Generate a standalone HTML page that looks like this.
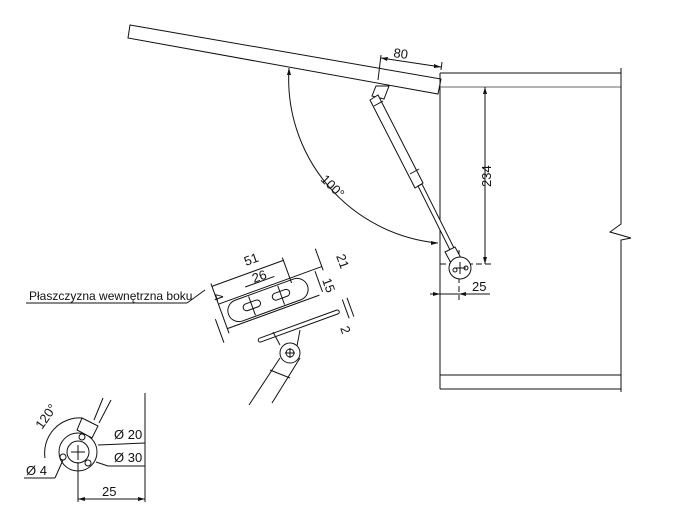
<!DOCTYPE html>
<html><head><meta charset="utf-8"><style>
html,body{margin:0;padding:0;background:#fff}
svg{display:block}
text{font-family:"Liberation Sans",sans-serif;font-size:13px;fill:#111}
</style></head><body>
<svg width="690" height="524" viewBox="0 0 690 524" xmlns="http://www.w3.org/2000/svg">
<g fill="none" stroke="#111" stroke-width="1">
<!-- lid -->
<polygon points="130,25 441,79 438,94 128,38" fill="#fff"/>
<!-- 80 dim -->
<line x1="381" y1="55" x2="378" y2="80"/>
<line x1="442" y1="62" x2="441" y2="70"/>
<line x1="381" y1="58" x2="441" y2="67"/>
<!-- cabinet -->
<line x1="440" y1="73" x2="440" y2="389"/>
<line x1="440" y1="73" x2="621" y2="73"/>
<line x1="440" y1="87" x2="621" y2="87" stroke="#666"/>
<line x1="440" y1="375" x2="621" y2="375"/>
<line x1="440" y1="389" x2="621" y2="389"/>
<polyline points="621,68 621,224 610,232 631,238 621,240 621,392"/>
<!-- 234 dim -->
<line x1="485" y1="87" x2="485" y2="264"/>
<line x1="440" y1="264" x2="492" y2="264" stroke-dasharray="6,3"/>
<!-- 25 dim -->
<line x1="430" y1="294" x2="490" y2="294"/>
<line x1="459" y1="250" x2="459" y2="300" stroke-dasharray="6,3"/>
<!-- angle arc -->
<path d="M289,68 A165,165 0 0 0 438,243"/>
<!-- gas spring -->
<path d="M372,96 L376,86 L389,86 L384,99 Z"/>
<polygon points="370,100 378,95 423,183 415,188" fill="#fff"/>
<line x1="374" y1="106" x2="383" y2="101"/>
<line x1="410" y1="174" x2="419" y2="169"/>
<polygon points="418,186 422,184 456,252 452,254" fill="#fff"/>
<polygon points="445,252 455,247 461,258 451,263" fill="#fff"/>
<circle cx="460" cy="268" r="11" fill="#fff"/>
<circle cx="455" cy="270" r="2"/><circle cx="466" cy="268" r="2"/>
<line x1="460" y1="262" x2="460" y2="274"/><line x1="454" y1="268" x2="466" y2="268"/>
<!-- label -->
<line x1="26" y1="303" x2="187" y2="303"/>
<line x1="187" y1="303" x2="205" y2="290"/>
<!-- bracket detail -->
<g transform="rotate(-20 268 300)">
<rect x="226" y="289" width="84" height="22" rx="11"/>
<rect x="242" y="296" width="18" height="7" rx="3.5"/>
<rect x="273" y="296" width="18" height="7" rx="3.5"/>
<line x1="251" y1="290" x2="251" y2="310"/><line x1="282" y1="290" x2="282" y2="310"/>
<line x1="220" y1="287" x2="330" y2="287"/>
<line x1="220" y1="313" x2="318" y2="313"/>
<line x1="220" y1="265" x2="220" y2="318"/>
<line x1="220" y1="268" x2="296" y2="268"/>
<line x1="296" y1="265" x2="296" y2="292"/>
<line x1="251" y1="280" x2="282" y2="280"/>
<line x1="330" y1="268" x2="330" y2="291"/>
<line x1="322" y1="289" x2="322" y2="311"/>
<line x1="212" y1="300" x2="212" y2="325"/>
<rect x="245" y="333" width="86" height="4" rx="2"/>
<line x1="338" y1="325" x2="338" y2="345"/><line x1="343" y1="325" x2="343" y2="345"/>
</g>
<circle cx="290" cy="353" r="10"/>
<circle cx="290" cy="353" r="4"/>
<line x1="285" y1="353" x2="295" y2="353"/><line x1="290" y1="348" x2="290" y2="358"/>
<line x1="280" y1="358" x2="249" y2="405"/>
<line x1="300" y1="358" x2="272" y2="403"/>
<line x1="270" y1="370" x2="290" y2="378"/>
<line x1="280" y1="345" x2="273" y2="332"/><line x1="297" y1="346" x2="300" y2="330"/>
<!-- bottom-left detail -->
<circle cx="78" cy="452" r="19"/>
<circle cx="78" cy="452" r="11"/>
<circle cx="82" cy="437" r="3"/><circle cx="63" cy="457" r="3"/><circle cx="88" cy="463" r="3"/>
<line x1="71" y1="452" x2="85" y2="452"/><line x1="78" y1="445" x2="78" y2="460"/>
<line x1="78" y1="462" x2="78" y2="502"/>
<line x1="145" y1="393" x2="145" y2="502"/>
<line x1="78" y1="499" x2="145" y2="499"/>
<line x1="98" y1="445" x2="145" y2="443"/>
<line x1="96" y1="462" x2="108" y2="466"/><line x1="108" y1="466" x2="145" y2="466"/>
<line x1="24" y1="478" x2="55" y2="478"/><line x1="55" y1="478" x2="63" y2="460"/>
<path d="M45,458 A35,35 0 0 1 82,418"/>
<polygon points="82,418 98,426 92,438 77,430" fill="#fff"/>
<line x1="94" y1="420" x2="103" y2="398"/><line x1="99" y1="423" x2="111" y2="400"/>
</g>
<g fill="#111">
<polygon points="381,58 388,57 387,61"/><polygon points="441,67 434,68 434,64"/>
<polygon points="485,87 483,94 487,94"/><polygon points="485,264 483,257 487,257"/>
<polygon points="440,294 433,292 433,296"/><polygon points="459,294 466,292 466,296"/>
<polygon points="289,68 287,75 291,75"/><polygon points="438,243 431,241 431,245"/>
<polygon points="78,499 85,497 85,501"/><polygon points="145,499 138,497 138,501"/>
</g>
<text x="393" y="57" transform="rotate(8 393 57)">80</text>
<text x="491" y="187" transform="rotate(-90 491 187)">234</text>
<text x="472" y="291">25</text>
<text x="320" y="180" transform="rotate(45 320 180)">100°</text>
<text x="246" y="266" transform="rotate(-20 246 266)">51</text>
<text x="254" y="283" transform="rotate(-20 254 283)">26</text>
<text x="336" y="256" transform="rotate(70 336 256)">21</text>
<text x="322" y="280" transform="rotate(70 322 280)">15</text>
<text x="213" y="295" transform="rotate(70 213 295)">4</text>
<text x="340" y="328" transform="rotate(70 340 328)">2</text>
<text x="29" y="300" style="font-size:12px">Płaszczyzna wewnętrzna boku</text>
<text x="114" y="439">Ø 20</text>
<text x="114" y="462">Ø 30</text>
<text x="26" y="475">Ø 4</text>
<text x="102" y="496">25</text>
<text x="42" y="430" transform="rotate(-55 42 430)">120°</text>
</svg>
</body></html>
